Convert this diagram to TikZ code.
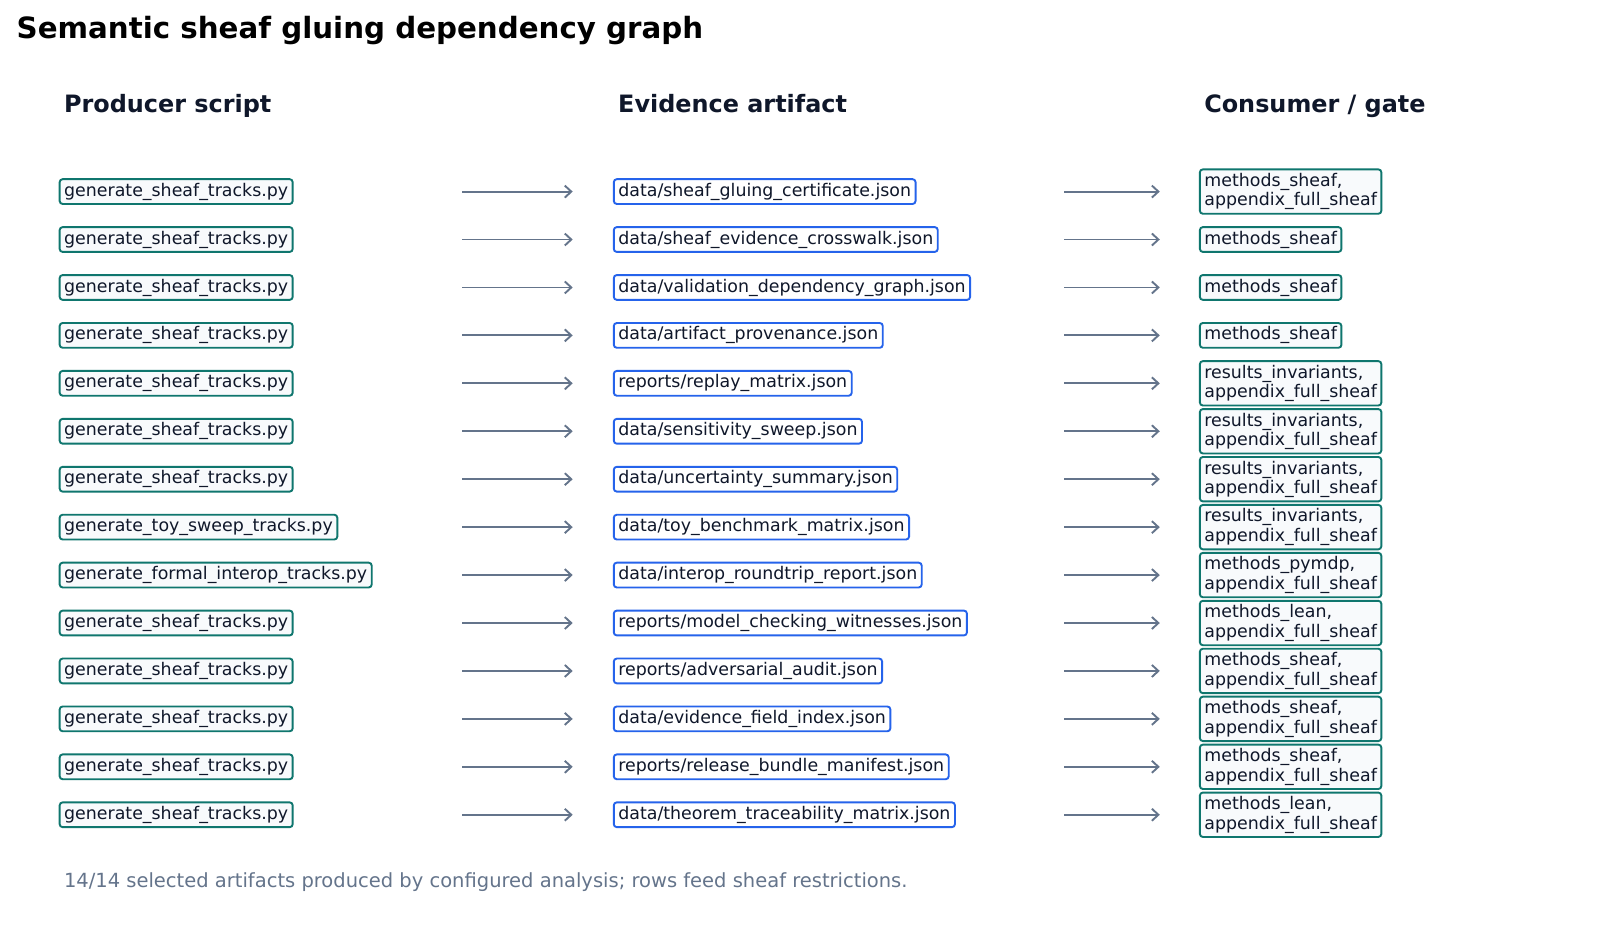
\documentclass[tikz,border=0pt]{standalone}
\usepackage{fontspec}
\setmainfont{DejaVu Sans}
\usetikzlibrary{arrows.meta}
\definecolor{tealb}{HTML}{0F766E}
\definecolor{blueb}{HTML}{2563EB}
\definecolor{boxfill}{HTML}{F8FAFC}
\definecolor{ink}{HTML}{0F172A}
\definecolor{slate}{HTML}{64748B}
\newcommand\mystrut{\rule[-4.2pt]{0pt}{17.6pt}}
\tikzset{
  basebox/.style={draw, line width=1.9pt, rounded corners=3pt, anchor=west, align=left,
    inner xsep=4.5pt, inner ysep=3.6pt, text=ink,
    font=\fontsize{17.4}{19.6}\selectfont},
  prod/.style={basebox, draw=tealb, fill=boxfill},
  evid/.style={basebox, draw=blueb, fill=white},
  cons/.style={basebox, draw=tealb, fill=boxfill},
  flow/.style={draw=slate, line width=1.9pt, -{Straight Barb[length=6.5pt,width=12pt,line width=1.9pt]}},
  header/.style={anchor=base west, text=ink, font=\fontsize{23.9}{26}\selectfont\bfseries, inner sep=0pt},
}
\begin{document}
\begin{tikzpicture}[x=1.030pt,y=-1.030pt]
\useasboundingbox[fill=white] (0,0) rectangle (1566.99,913.59);
\node[anchor=base west, inner sep=0pt, text=black, font=\fontsize{29.3}{32}\selectfont\bfseries] (title) at (16,37) {Semantic sheaf gluing dependency graph};
\node[header] (h1) at (62,109.5) {Producer script};
\node[header] (h2) at (600,109.5) {Evidence artifact};
\node[header] (h3) at (1169,109.5) {Consumer / gate};
\foreach \i/\p/\e/\c in {
 0/{generate\_sheaf\_tracks.py}/{data/sheaf\_gluing\_certificate.json}/{methods\_sheaf,\\\mystrut appendix\_full\_sheaf},
 1/{generate\_sheaf\_tracks.py}/{data/sheaf\_evidence\_crosswalk.json}/{methods\_sheaf},
 2/{generate\_sheaf\_tracks.py}/{data/validation\_dependency\_graph.json}/{methods\_sheaf},
 3/{generate\_sheaf\_tracks.py}/{data/artifact\_provenance.json}/{methods\_sheaf},
 4/{generate\_sheaf\_tracks.py}/{reports/replay\_matrix.json}/{results\_invariants,\\\mystrut appendix\_full\_sheaf},
 5/{generate\_sheaf\_tracks.py}/{data/sensitivity\_sweep.json}/{results\_invariants,\\\mystrut appendix\_full\_sheaf},
 6/{generate\_sheaf\_tracks.py}/{data/uncertainty\_summary.json}/{results\_invariants,\\\mystrut appendix\_full\_sheaf},
 7/{generate\_toy\_sweep\_tracks.py}/{data/toy\_benchmark\_matrix.json}/{results\_invariants,\\\mystrut appendix\_full\_sheaf},
 8/{generate\_formal\_interop\_tracks.py}/{data/interop\_roundtrip\_report.json}/{methods\_pymdp,\\\mystrut appendix\_full\_sheaf},
 9/{generate\_sheaf\_tracks.py}/{reports/model\_checking\_witnesses.json}/{methods\_lean,\\\mystrut appendix\_full\_sheaf},
 10/{generate\_sheaf\_tracks.py}/{reports/adversarial\_audit.json}/{methods\_sheaf,\\\mystrut appendix\_full\_sheaf},
 11/{generate\_sheaf\_tracks.py}/{data/evidence\_field\_index.json}/{methods\_sheaf,\\\mystrut appendix\_full\_sheaf},
 12/{generate\_sheaf\_tracks.py}/{reports/release\_bundle\_manifest.json}/{methods\_sheaf,\\\mystrut appendix\_full\_sheaf},
 13/{generate\_sheaf\_tracks.py}/{data/theorem\_traceability\_matrix.json}/{methods\_lean,\\\mystrut appendix\_full\_sheaf}}
{
  \pgfmathsetmacro{\yy}{186+\i*46.54}
  \node[prod] (p\i) at (57,\yy) {\mystrut\p};
  \node[evid] (e\i) at (595,\yy) {\mystrut\e};
  \node[cons] (c\i) at (1164,\yy) {\mystrut\c};
  \coordinate (a\i) at (449,\yy);
  \coordinate (b\i) at (556,\yy);
  \coordinate (d\i) at (1033,\yy);
  \coordinate (f\i) at (1126,\yy);
  \draw[flow] (a\i) -- (b\i);
  \draw[flow] (d\i) -- (f\i);
}
\node[anchor=base west, inner sep=0pt, text=slate, font=\fontsize{19.5}{22}\selectfont] (foot) at (62,862) {14/14 selected artifacts produced by configured analysis; rows feed sheaf restrictions.};
\end{tikzpicture}
\end{document}
